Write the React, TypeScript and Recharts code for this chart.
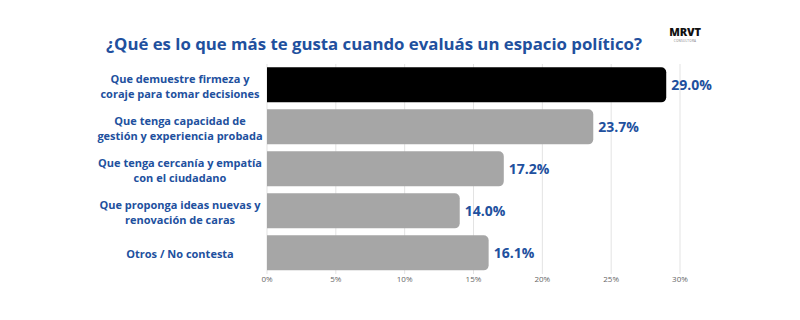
import { Bar, BarChart, CartesianGrid, Cell, LabelList, XAxis, YAxis } from "recharts";

const categories = [
  "Que demuestre firmeza y\ncoraje para tomar decisiones",
  "Que tenga capacidad de\ngestión y experiencia probada",
  "Que tenga cercanía y empatía\ncon el ciudadano",
  "Que proponga ideas nuevas y\nrenovación de caras",
  "Otros / No contesta",
];
const values = [29.0, 23.7, 17.2, 14.0, 16.1];
const barColors = ["#000000", "#a6a6a6", "#a6a6a6", "#a6a6a6", "#a6a6a6"];
const xTicks = [0, 5, 10, 15, 20, 25, 30];

const data = categories.map((name, i) => ({ name, value: values[i] }));

const BLUE = "#21509e";
const FONT = "'Open Sans', 'Noto Sans', sans-serif";

function CategoryTick({ y, payload }: { y?: number; payload?: { value: string } }) {
  const lines = (payload?.value ?? "").split("\n");
  const lh = 15;
  const start = (y ?? 0) - ((lines.length - 1) * lh) / 2;
  return (
    <text
      x={180}
      y={start}
      textAnchor="middle"
      dominantBaseline="central"
      fill={BLUE}
      fontFamily={FONT}
      fontWeight={700}
      fontSize={11}
    >
      {lines.map((line, i) => (
        <tspan key={i} x={180} dy={i === 0 ? 0 : lh}>
          {line}
        </tspan>
      ))}
    </text>
  );
}

export default function App() {
  return (
    <div
      style={{
        position: "absolute",
        left: 0,
        top: 0,
        width: 800,
        height: 320,
        background: "#ffffff",
        fontFamily: FONT,
      }}
    >
      <div
        style={{
          position: "absolute",
          left: 0,
          width: 748,
          top: 33,
          textAlign: "center",
          color: BLUE,
          fontWeight: 700,
          fontSize: 16.8,
          lineHeight: "22px",
        }}
      >
        ¿Qué es lo que más te gusta cuando evaluás un espacio político?
      </div>
      {/* brand mark, top right */}
      <div style={{ position: "absolute", left: 665, top: 26, width: 40, textAlign: "center" }}>
        <div style={{ fontWeight: 800, fontSize: 11, lineHeight: "12px", color: "#111", letterSpacing: -0.2 }}>
          MRVT
        </div>
        <div style={{ marginTop: 2, fontSize: 3, lineHeight: "3px", color: "#777", letterSpacing: 0.3 }}>
          CONSULTORA
        </div>
      </div>
      <BarChart
        width={800}
        height={320}
        data={data}
        layout="vertical"
        barCategoryGap="8%"
        margin={{ top: 64, right: 120, bottom: 26, left: 0 }}
      >
        <CartesianGrid horizontal={false} stroke="#e3e3e3" strokeWidth={1} />
        <XAxis
          type="number"
          domain={[0, 30]}
          ticks={xTicks}
          tickFormatter={(v: number) => `${v}%`}
          axisLine={false}
          tickLine={false}
          tick={{ fontSize: 8, fill: "#666666", fontFamily: FONT, dy: -4 }}
          height={20}
          tickMargin={0}
        />
        <YAxis
          type="category"
          dataKey="name"
          width={267}
          axisLine={false}
          tickLine={false}
          tick={<CategoryTick />}
        />
        <Bar dataKey="value" radius={[0, 5, 5, 0]} isAnimationActive={false}>
          {data.map((d, i) => (
            <Cell key={d.name} fill={barColors[i]} />
          ))}
          <LabelList
            dataKey="value"
            position="right"
            offset={5}
            formatter={(v: number) => `${v.toFixed(1)}%`}
            fill={BLUE}
            fontFamily={FONT}
            fontWeight={700}
            fontSize={14}
          />
        </Bar>
      </BarChart>
    </div>
  );
}
